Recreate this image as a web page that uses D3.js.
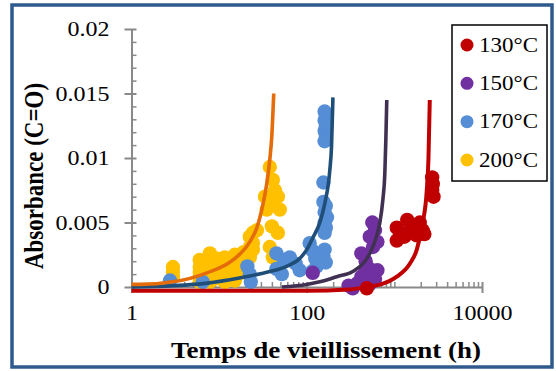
<!DOCTYPE html>
<html><head><meta charset="utf-8">
<script src="https://cdn.jsdelivr.net/npm/d3@7"></script>
<style>body{margin:0;background:#fff}svg{display:block}</style>
</head><body><svg id="c" width="556" height="371"></svg>
<script>
// ---------- data ----------
const seriesNames = ["130°C", "150°C", "170°C", "200°C"];
const dotColors = ["#c00000", "#7030a0", "#558ed5", "#ffc000"];
const lineColors = ["#c00000", "#403152", "#1f4e79", "#e46c0a"];
const yTicks = [0, 0.005, 0.01, 0.015, 0.02];
const yTickLabels = ["0", "0.005", "0.01", "0.015", "0.02"];
const yMinorTicks = [0.001,0.002,0.003,0.004,0.006,0.007,0.008,0.009,0.011,0.012,0.013,0.014,0.016,0.017,0.018,0.019];
const xTicks = [1, 100, 10000];
const xTickLabels = ["1", "100", "10000"];
const xMinorTicks = [2,3,4,5,6,7,8,9,10,20,30,40,50,60,70,80,90,200,300,400,500,600,700,800,900,1000,2000,3000,4000,5000,6000,7000,8000,9000];
const xTitle = "Temps de vieillissement (h)";
const yTitle = "Absorbance (C=O)";

// measured points [time (h), absorbance]
const pts200 = [
  [2.97,0.00155],[2.97,0.00116],[2.97,0.00078],
  [6.0,0.0021],[6.0,0.00155],[6.0,0.00116],[6.0,0.00078],[6.0,0.0004],
  [7.85,0.0026],[7.85,0.0019],[7.85,0.0012],[7.85,0.0004],
  [9.5,0.0022],[9.5,0.0014],[9.5,0.0007],
  [11.6,0.0023],[11.6,0.0017],[11.6,0.0009],[11.6,0.0004],
  [13,0.0021],[13,0.0013],[13,0.0006],
  [15.1,0.0025],[15.1,0.0019],[15.1,0.0012],[15.1,0.0005],
  [17.3,0.0023],[17.3,0.0015],
  [19,0.0027],[19,0.0019],[20,0.0011],
  [22.4,0.0039],[22.4,0.0031],[22.4,0.0023],
  [24.3,0.0042],[24.3,0.0034],[24.3,0.0029],
  [27.0,0.0044],
  [37.9,0.0093],[41.0,0.0083],[33.4,0.0070],[46.8,0.0070],[37.9,0.0065],
  [49.3,0.0060],[35.0,0.0060],[43.3,0.0075],[40.0,0.0047],[46.8,0.0042],
  [37.9,0.0031],[41.0,0.0023]
];
const pts170 = [
  [2.75,0.0005],[6.5,0.0004],
  [21,0.0016],[22.4,0.0010],[23,0.0004],
  [45,0.0026],[55,0.0021],[64,0.0023],[75,0.0018],[83,0.0013],[45,0.0014],[52,0.0010],
  [108,0.0034],[117,0.0028],[125,0.0022],[130,0.0016],[115,0.0012],
  [160,0.0136],[165,0.0133],[160,0.0129],[165,0.0125],[160,0.0121],[165,0.0117],[160,0.0113],
  [155,0.0081],
  [155,0.0066],[165,0.0063],[160,0.0058],[170,0.0054],[160,0.0050],[165,0.0046],[160,0.0042],
  [160,0.0029],[155,0.0024],[165,0.0019]
];
const pts150 = [
  [117,0.0011],
  [300,0.0001],[335,-0.0001],[380,0.0003],[420,0.0008],[470,0.0012],[520,0.0014],
  [560,0.0010],[600,0.0006],[450,0.0003],[520,0.0002],[640,0.0013],
  [420,0.0026],[470,0.0020],
  [560,0.0050],[600,0.0044],[524,0.0039],[570,0.0031],[640,0.0035]
];
const pts130 = [
  [484,-0.0001],
  [1065,0.0046],[1065,0.0036],[1150,0.0042],[1400,0.0052],[1500,0.0044],[1650,0.0048],
  [1950,0.0050],[2100,0.0044],[2200,0.0041],[1300,0.0039],[1800,0.0040],
  [2700,0.0085],[2750,0.0080],[2700,0.0075],[2800,0.0070]
];
// fitted curves, points
const fit200 = [[1,0.0002],[1.25,0.0002],[2.97,0.0004],[7.26,0.0011],[14.4,0.0021],[22.4,0.0035],[27,0.0046],[31.6,0.0064],[35.1,0.0081],[37.9,0.0099],[40,0.0118],[42,0.0150]];
const fit170 = [[1,0.0000],[3,0.0001],[7.3,0.0003],[17,0.0007],[38,0.0012],[59,0.0016],[83,0.0022],[100,0.0029],[117,0.0038],[141,0.0050],[161,0.0065],[183,0.0090],[192,0.0110],[199,0.0147]];
const fit150 = [[52,0.0000],[100,0.0002],[141,0.0004],[220,0.0008],[335,0.0012],[450,0.0019],[524,0.0026],[630,0.0040],[683,0.0050],[740,0.0068],[778,0.0088],[800,0.0115],[819,0.0145]];
const fit130 = [[1,-0.0003],[100,-0.0003],[300,-0.0002],[484,0.0000],[700,0.0002],[1065,0.0008],[1500,0.0018],[1802,0.0029],[2110,0.0050],[2344,0.0075],[2450,0.0100],[2535,0.0145]];

const points = [pts130, pts150, pts170, pts200];
const fits = [fit130, fit150, fit170, fit200];

// ---------- drawing ----------
const FONT = '"Liberation Serif","Times New Roman",serif';
const SX = 1.2; // horizontal stretch of the reference text
const AX = "#898989";
const svg = d3.select("#c");
svg.append("rect").attr("width",556).attr("height",371).attr("fill","#fff");
svg.append("rect").attr("x",12).attr("y",5).attr("width",540).attr("height",362)
  .attr("fill","none").attr("stroke","#2e5a8e").attr("stroke-width",3.5);

const x = d3.scaleLog().domain([1,10000]).range([131.5,482]);
const y = d3.scaleLinear().domain([0,0.02]).range([287,29]);
const x0 = x(1), y0 = y(0);

// y axis major
const gy = svg.append("g").attr("transform",`translate(${x0},0)`)
  .call(d3.axisLeft(y).tickValues(yTicks).tickSize(7).tickSizeOuter(0)
    .tickFormat((d,i)=>yTickLabels[i]));
gy.attr("font-family",null);
gy.select(".domain").attr("stroke",AX).attr("stroke-width",2);
gy.selectAll(".tick line").attr("stroke",AX).attr("stroke-width",2).attr("x1",5);
gy.selectAll(".tick text").attr("x",-22/SX).attr("dy",null).attr("y",6.8)
  .attr("transform",`scale(${SX},1)`).style("font-family",FONT).style("font-size","20px").attr("fill","#000");
// y minor
const gym = svg.append("g").attr("transform",`translate(${x0},0)`)
  .call(d3.axisRight(y).tickValues(yMinorTicks).tickSize(5).tickFormat(""));
gym.select(".domain").remove();
gym.selectAll(".tick line").attr("stroke",AX).attr("stroke-width",1.5);

// x axis major
const gx = svg.append("g").attr("transform",`translate(0,${y0})`)
  .call(d3.axisBottom(x).tickValues(xTicks).tickSize(6).tickSizeOuter(0)
    .tickFormat((d,i)=>xTickLabels[i]));
gx.attr("font-family",null);
gx.select(".domain").attr("stroke",AX).attr("stroke-width",2);
gx.selectAll(".tick line").attr("stroke",AX).attr("stroke-width",2).attr("y1",-5);
gx.selectAll(".tick text").attr("y",33).attr("dy",null)
  .attr("transform",`scale(${SX},1)`).style("font-family",FONT).style("font-size","20px").attr("fill","#000");
// x minor
const gxm = svg.append("g").attr("transform",`translate(0,${y0})`)
  .call(d3.axisTop(x).tickValues(xMinorTicks).tickSize(5).tickFormat(""));
gxm.select(".domain").remove();
gxm.selectAll(".tick line").attr("stroke",AX).attr("stroke-width",1.5);

// scatter
const drawOrder = [3,2,1,0];
drawOrder.forEach(i=>{
  svg.append("g").selectAll("circle").data(points[i]).join("circle")
    .attr("cx",d=>x(d[0])).attr("cy",d=>y(d[1])).attr("r",7.2)
    .attr("fill",dotColors[i]);
});
// fitted lines
const line = d3.line().x(d=>x(d[0])).y(d=>y(d[1])).curve(d3.curveMonotoneX);
[0,1,2,3].forEach(i=>{
  svg.append("path").datum(fits[i]).attr("d",line).attr("fill","none")
    .attr("stroke",lineColors[i]).attr("stroke-width",i===0?4:3.6);
});

// titles
svg.append("text").attr("transform",`translate(326,358) scale(${SX},1)`)
  .attr("text-anchor","middle").style("font-family",FONT).style("font-weight","bold")
  .style("font-size","22.5px").text(xTitle);
svg.append("text").attr("transform",`translate(43,176) scale(${SX},1) rotate(-90)`)
  .attr("text-anchor","middle").style("font-family",FONT).style("font-weight","bold")
  .style("font-size","23px").text(yTitle);

// legend
const lg = svg.append("g");
lg.append("rect").attr("x",452).attr("y",25).attr("width",95).attr("height",156)
  .attr("fill","#fff").attr("stroke","#000").attr("stroke-width",1.5);
const legY = d3.scalePoint().domain(seriesNames).range([45,160]);
seriesNames.forEach((s,i)=>{
  lg.append("circle").attr("cx",467).attr("cy",legY(s)).attr("r",6.5).attr("fill",dotColors[i]);
  lg.append("text").attr("transform",`translate(479,${legY(s)+6.8}) scale(1.15,1)`)
    .style("font-family",FONT).style("font-size","20px").text(s);
});
</script></body></html>
